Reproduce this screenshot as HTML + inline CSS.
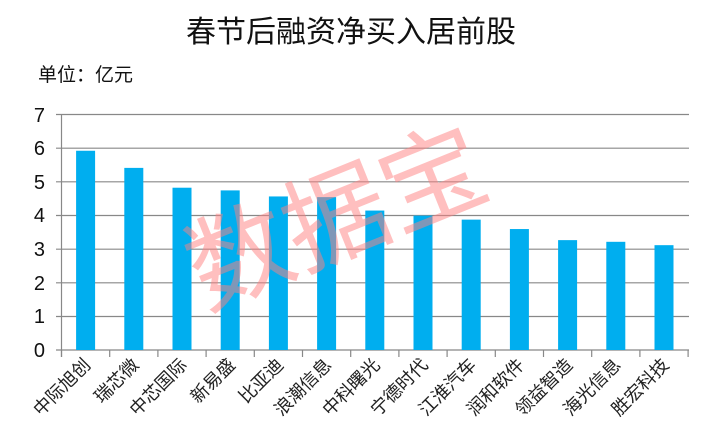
<!DOCTYPE html>
<html><head><meta charset="utf-8"><style>
body{margin:0;background:#fff;}
svg{display:block;font-family:"Liberation Sans","Noto Sans CJK SC",sans-serif;}
</style></head><body>
<svg width="702" height="446" viewBox="0 0 702 446">
<text x="351" y="42" font-size="30" text-anchor="middle" fill="#111">春节后融资净买入居前股</text>
<text x="38" y="81" font-size="19" fill="#111">单位：亿元</text>
<g stroke="#888" stroke-width="1.2">
<line x1="56" y1="114.5" x2="689" y2="114.5"/>
<line x1="56" y1="148.2" x2="689" y2="148.2"/>
<line x1="56" y1="181.8" x2="689" y2="181.8"/>
<line x1="56" y1="215.5" x2="689" y2="215.5"/>
<line x1="56" y1="249.2" x2="689" y2="249.2"/>
<line x1="56" y1="282.8" x2="689" y2="282.8"/>
<line x1="56" y1="316.5" x2="689" y2="316.5"/>
<line x1="56" y1="350" x2="689" y2="350"/>
<line x1="61.5" y1="114.5" x2="61.5" y2="357"/>
</g>
<g stroke="#888" stroke-width="1.2" id="ticks"></g>
<g font-size="20" fill="#111" text-anchor="end">
<text x="45" y="357">0</text><text x="45" y="323">1</text><text x="45" y="290">2</text><text x="45" y="256">3</text><text x="45" y="222">4</text><text x="45" y="189">5</text><text x="45" y="155">6</text><text x="45" y="122">7</text>
</g>
<g id="bars" fill="#00AEEF"></g>
<g id="labels" font-size="18" fill="#222" text-anchor="end"></g>
<text x="0" y="0" font-size="104" fill="#ff7f7f" fill-opacity="0.5" transform="translate(205,310) rotate(-22)">数据宝</text>
<script>
var v=[5.93,5.42,4.83,4.75,4.57,4.55,4.15,4.0,3.88,3.6,3.27,3.22,3.12];
var n=["中际旭创","瑞芯微","中芯国际","新易盛","比亚迪","浪潮信息","中科曙光","宁德时代","江淮汽车","润和软件","领益智造","海光信息","胜宏科技"];
var ns="http://www.w3.org/2000/svg",s=48.2,x0=61.5,u=33.6;
var B=document.getElementById("bars"),L=document.getElementById("labels"),T=document.getElementById("ticks");
for(var i=0;i<=13;i++){var l=document.createElementNS(ns,"line");var x=x0+i*s;l.setAttribute("x1",x);l.setAttribute("x2",x);l.setAttribute("y1",350);l.setAttribute("y2",357);T.appendChild(l);}
for(var i=0;i<13;i++){var c=x0+s*i+s/2;var r=document.createElementNS(ns,"rect");r.setAttribute("x",c-9.5);r.setAttribute("width",19);r.setAttribute("y",350-v[i]*u);r.setAttribute("height",v[i]*u);B.appendChild(r);
var t=document.createElementNS(ns,"text");t.setAttribute("transform","translate("+(c+6)+",366) rotate(-45)");t.textContent=n[i];L.appendChild(t);}
</script>
</svg>
</body></html>
